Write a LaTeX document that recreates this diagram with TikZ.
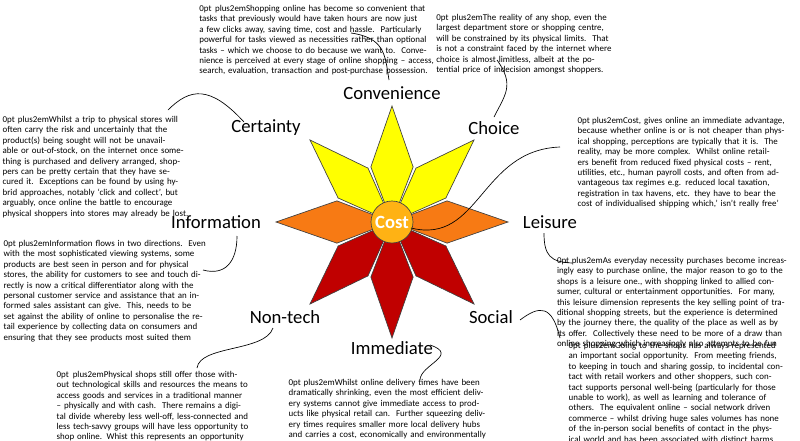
\documentclass[tikz,border=0pt]{standalone}
\usepackage{fontspec}
\setmainfont{Carlito}
\usetikzlibrary{calc}
\begin{document}
\begin{tikzpicture}[x=0.75pt,y=-0.75pt,
  petal/.style={draw=black!75,line width=0.5pt},
  lab/.style={font=\fontsize{14}{16}\selectfont,inner sep=1pt},
  txt/.style={font=\fontsize{6.7}{7.8}\selectfont\hyphenpenalty=10000\exhyphenpenalty=10000,align=center,inner sep=0pt},
  conn/.style={line width=0.5pt}]
\useasboundingbox (0,0) rectangle (800,440);
\coordinate (c) at (392,222);
\definecolor{py}{RGB}{255,255,0}
\definecolor{po}{RGB}{247,122,20}
\definecolor{pr}{RGB}{192,0,0}
\definecolor{pc}{RGB}{255,178,20}
\foreach \a/\col in {225/py,270/py,315/py,180/po,0/po,135/pr,90/pr,45/pr}{
  \filldraw[petal,fill=\col] (c) -- ($(c)+(\a-21:59)$) -- ($(c)+(\a:116)$) -- ($(c)+(\a+21:59)$) -- cycle;
}
\node[circle,draw=black!75,line width=0.5pt,fill=pc,minimum size=31.5pt,inner sep=0pt,
  font=\fontsize{14}{16}\selectfont\bfseries,text=white] (cost) at (c) {Cost};

% labels
\node[lab] (conv) at (392,93) {Convenience};
\node[lab] (cert) at (266,128) {Certainty};
\node[lab] (choi) at (494,128) {Choice};
\node[lab] (info) at (216,222) {Information};
\node[lab] (leis) at (550,222) {Leisure};
\node[lab] (nont) at (285,317) {Non-tech};
\node[lab] (soci) at (491,317) {Social};
\node[lab] (imme) at (392,348) {Immediate};

% texts
\node[txt,text width=190pt,anchor=north] (tconv) at (326,5) {Shopping online has become so convenient that tasks that previously would have taken hours are now just a few clicks away, saving time, cost and hassle.\ \ Particularly powerful for tasks viewed as necessities rather than optional tasks -- which we choose to do because we want to.\ \ Convenience is perceived at every stage of online shopping -- access, search, evaluation, transaction and post-purchase possession.};
\node[txt,text width=145pt,anchor=north] (tchoi) at (533,14) {The reality of any shop, even the largest department store or shopping centre, will be constrained by its physical limits.\ \ That is not a constraint faced by the internet where choice is almost limitless, albeit at the potential price of indecision amongst shoppers.};
\node[txt,text width=158pt,anchor=north] (tcost) at (683,117) {Cost, gives online an immediate advantage, because whether online is or is not cheaper than physical shopping, perceptions are typically that it is.\ \ The reality, may be more complex.\ \ Whilst online retailers benefit from reduced fixed physical costs -- rent, utilities, etc., human payroll costs, and often from advantageous tax regimes e.g. reduced local taxation, registration in tax havens, etc. they have to bear the cost of individualised shipping which,' isn't really free'};
\node[txt,text width=146pt,anchor=north] (tcert) at (100,116) {Whilst a trip to physical stores will often carry the risk and uncertainly that the product(s) being sought will not be unavailable or out-of-stock, on the internet once something is purchased and delivery arranged, shoppers can be pretty certain that they have secured it.\ \ Exceptions can be found by using hybrid approaches, notably `click and collect', but arguably, once online the battle to encourage physical shoppers into stores may already be lost.};
\node[txt,text width=161pt,anchor=north] (tinfo) at (111,240) {Information flows in two directions.\ \ Even with the most sophisticated viewing systems, some products are best seen in person and for physical stores, the ability for customers to see and touch directly is now a critical differentiator along with the personal customer service and assistance that an informed sales assistant can give.\ \ This, needs to be set against the ability of online to personalise the retail experience by collecting data on consumers and ensuring that they see products most suited them};
\node[txt,text width=161pt,anchor=north] (tnont) at (164,371) {Physical shops still offer those without technological skills and resources the means to access goods and services in a traditional manner -- physically and with cash.\ \ There remains a digital divide whereby less well-off, less-connected and less tech-savvy groups will have less opportunity to shop online. Whist this represents an opportunity for physical retail, it is a negative and shrinking one.};
\node[txt,text width=155pt,anchor=north] (timme) at (392,379) {Whilst online delivery times have been dramatically shrinking, even the most efficient delivery systems cannot give immediate access to products like physical retail can.\ \ Further squeezing delivery times requires smaller more local delivery hubs and carries a cost, economically and environmentally};
\node[txt,text width=180pt,anchor=north] (tleis) at (677,257) {As everyday necessity purchases become increasingly easy to purchase online, the major reason to go to the shops is a leisure one., with shopping linked to allied consumer, cultural or entertainment opportunities.\ \ For many, this leisure dimension represents the key selling point of traditional shopping streets, but the experience is determined by the journey there, the quality of the place as well as by its offer.\ \ Collectively these need to be more of a draw than online shopping which increasingly also attempts to be fun};
\node[txt,text width=170pt,anchor=north] (tsoci) at (682,342) {Going to the shops has always represented an important social opportunity.\ \ From meeting friends, to keeping in touch and sharing gossip, to incidental contact with retail workers and other shoppers, such contact supports personal well-being (particularly for those unable to work), as well as learning and tolerance of others.\ \ The equivalent online -- social network driven commerce -- whilst driving huge sales volumes has none of the in-person social benefits of contact in the physical world and has been associated with distinct harms};

% connectors
\coordinate (a1) at (351,33); \coordinate (a2) at (389,80);
\draw[conn] (a1) .. controls (385,38) and (385,55) .. (a2);
\coordinate (b1) at (497,60); \coordinate (b2) at (494,117);
\draw[conn] (b1) .. controls (515,85) and (505,95) .. (b2);
\coordinate (k1) at (560,147); \coordinate (k2) at (411,228);
\draw[conn] (k1) .. controls (480,150) and (480,245) .. (k2);
\coordinate (d1) at (168,110); \coordinate (d2) at (244,122);
\draw[conn] (d1) .. controls (190,88) and (210,85) .. (d2);
\coordinate (e1) at (237,236); \coordinate (e2) at (203,270);
\draw[conn] (e1) .. controls (237,262) and (225,276) .. (e2);
\coordinate (f1) at (273,328); \coordinate (f2) at (197,368);
\draw[conn] (f1) .. controls (265,352) and (200,345) .. (f2);
\coordinate (g1) at (430,345); \coordinate (g2) at (420,380);
\draw[conn] (g1) .. controls (460,355) and (420,365) .. (g2);
\coordinate (h1) at (520,320); \coordinate (h2) at (560,338);
\draw[conn] (h1) .. controls (540,305) and (552,305) .. (h2);
\coordinate (l1) at (544,233); \coordinate (l2) at (572,263);
\draw[conn] (l1) .. controls (544,255) and (550,262) .. (l2);
\end{tikzpicture}
\end{document}
